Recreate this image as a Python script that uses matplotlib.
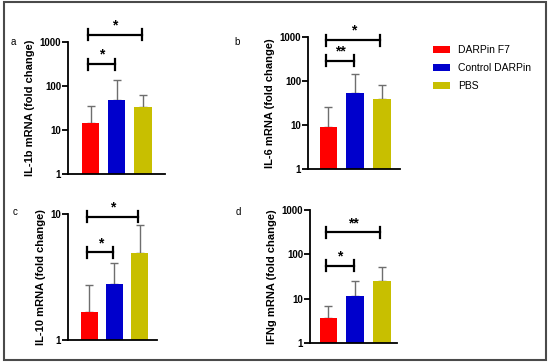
import matplotlib
matplotlib.use('Agg')
import matplotlib.pyplot as plt
from matplotlib.patches import Rectangle, Patch
import numpy as np

plt.rcParams['font.family'] = ['Liberation Sans', 'DejaVu Sans']

groups = ['DARPin F7', 'Control DARPin', 'PBS']
colors = ['#ff0000', '#0000cc', '#c8bf00']

panel_letters = ['a', 'b', 'c', 'd']
ylabels = ['IL-1b mRNA (fold change)', 'IL-6 mRNA (fold change)',
           'IL-10 mRNA (fold change)', 'IFNg mRNA (fold change)']

# means and upper errors (SD) per panel
il1b_mean = [14.2, 49, 34]
il1b_err = [21, 88, 28]
il6_mean = [8.9, 52.5, 38]
il6_err = [17, 90, 41]
il10_mean = [1.68, 2.77, 4.93]
il10_err = [1.04, 1.29, 3.27]
ifng_mean = [3.66, 11.4, 25.8]
ifng_err = [3.24, 13.5, 26.5]

means = [il1b_mean, il6_mean, il10_mean, ifng_mean]
errs = [il1b_err, il6_err, il10_err, ifng_err]

# significance brackets: (group i, group j, height, label)
il1b_sig = [(0, 1, 316, '*'), (0, 2, 1445, '*')]
il6_sig = [(0, 1, 286, '**'), (0, 2, 841, '*')]
il10_sig = [(0, 1, 4.97, '*'), (0, 2, 9.5, '*')]
ifng_sig = [(0, 1, 55, '*'), (0, 2, 316, '**')]
sigs = [il1b_sig, il6_sig, il10_sig, ifng_sig]

ylims = [(1, 1000), (1, 1000), (1, 10), (1, 1000)]
yticks = [[1, 10, 100, 1000], [1, 10, 100, 1000], [1, 10], [1, 10, 100, 1000]]

# axes placement in pixels: left, right, top, bottom
W, H = 550, 364
boxes = [(68, 165, 42, 174), (308, 400, 36.7, 169.3),
         (68, 157, 214, 340), (310, 397, 210, 343.3)]
xlims = [(-0.86, 2.84), (-0.76, 2.68), (-0.845, 2.69), (-0.69, 2.57)]
letter_pos = [(13, 42), (237, 42), (15, 212), (238, 212)]

fig = plt.figure(figsize=(W / 100, H / 100), dpi=100)
fig.patch.set_facecolor('white')

x = np.arange(len(groups))
for k in range(4):
    l, r, t, b = boxes[k]
    ax = fig.add_axes([l / W, 1 - b / H, (r - l) / W, (b - t) / H])
    ax.set_yscale('log')
    ax.bar(x, means[k], width=0.66, color=colors, zorder=2)
    ax.errorbar(x, means[k], yerr=[np.zeros(3), errs[k]], fmt='none',
                ecolor='#6e6e6e', elinewidth=1.0, capsize=3, capthick=1.0, zorder=1)
    ax.set_xlim(*xlims[k])
    ax.set_ylim(*ylims[k])
    ax.set_yticks(yticks[k])
    ax.set_yticklabels([str(v) for v in yticks[k]], fontweight='bold', fontsize=7)
    ax.yaxis.set_minor_locator(matplotlib.ticker.NullLocator())
    ax.set_xticks([])
    for s in ['top', 'right']:
        ax.spines[s].set_visible(False)
    for s in ['left', 'bottom']:
        ax.spines[s].set_linewidth(1.3)
    ax.tick_params(axis='y', length=4, width=1.3, pad=1)
    ax.set_ylabel(ylabels[k], fontweight='bold', fontsize=8, labelpad=3)

    # significance brackets with vertical end ticks
    for (i, j, h, lab) in sigs[k]:
        x0, x1 = i - 0.08, j - 0.05
        ax.plot([x0, x1], [h, h], color='black', lw=1.6, clip_on=False, zorder=3)
        for xe in (x0, x1):
            px, py = ax.transData.transform((xe, h))
            fig.lines.append(plt.Line2D([px / W, px / W], [(py - 5.5) / H, (py + 5.5) / H],
                                        transform=fig.transFigure, color='black', lw=1.6))
        ax.annotate(lab, xy=((x0 + x1) / 2, h), xytext=(0, 1.5), textcoords='offset points',
                    ha='center', va='bottom', fontsize=10, fontweight='bold',
                    annotation_clip=False)

    lx, ly = letter_pos[k]
    fig.text(lx / W, 1 - ly / H, panel_letters[k], fontsize=7, ha='center', va='center')

handles = [Patch(facecolor=c, edgecolor='none') for c in colors]
fig.legend(handles, groups, loc='upper left', bbox_to_anchor=(424 / W, 1 - 36 / H),
           frameon=False, fontsize=7.5, handlelength=1.6, handleheight=0.6,
           labelspacing=0.75, handletextpad=0.8)

# outer frame
fig.patches.append(Rectangle((3.5 / W, 1 - 360 / H), (545.5 - 3.5) / W, (360 - 2) / H,
                             transform=fig.transFigure, fill=False, edgecolor='#4a4a4a', lw=1.5))

fig.savefig('out.png', dpi=100)
